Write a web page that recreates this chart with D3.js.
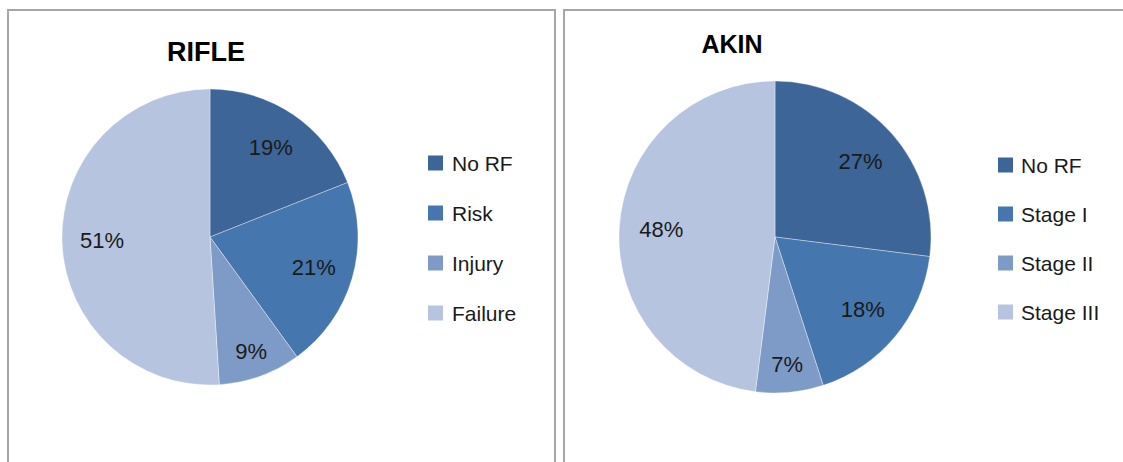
<!DOCTYPE html>
<html>
<head>
<meta charset="utf-8">
<script src="https://cdn.jsdelivr.net/npm/d3@7"></script>
<style>
  html, body { margin: 0; padding: 0; background: #fff; }
  svg { display: block; }
</style>
</head>
<body>
<svg id="chart" width="1123" height="462"></svg>
<script>
// Category names and percentage shares for each classification
const rifleCategories = ["No RF", "Risk", "Injury", "Failure"];
const rifleValues = [19, 21, 9, 51];

const akinCategories = ["No RF", "Stage I", "Stage II", "Stage III"];
const akinValues = [27, 18, 7, 48];

const sliceColors = ["#3d6597", "#4676ae", "#7e9bc8", "#b6c4df"];

const svg = d3.select("#chart");
const FONT = "Liberation Sans, Arial, sans-serif";

function drawPanel(opts) {
  const g = svg.append("g");

  // panel frame
  g.append("rect")
    .attr("x", opts.frame[0]).attr("y", opts.frame[1])
    .attr("width", opts.frame[2]).attr("height", opts.frame[3])
    .attr("fill", "#fff")
    .attr("stroke", "#a6a6a6")
    .attr("stroke-width", 2);

  // title
  g.append("text")
    .attr("x", opts.titleX).attr("y", opts.titleY)
    .attr("text-anchor", "middle")
    .attr("font-family", FONT)
    .attr("font-weight", "bold")
    .attr("font-size", opts.titleSize)
    .attr("fill", "#000")
    .text(opts.title);

  const color = d3.scaleOrdinal().domain(opts.categories).range(sliceColors);
  const pie = d3.pie().sort(null).value(d => d.value);
  const data = opts.categories.map((c, i) => ({ name: c, value: opts.values[i] }));
  const arcs = pie(data);
  const total = d3.sum(opts.values);

  const arc = d3.arc().innerRadius(0).outerRadius(opts.r);
  const pieG = g.append("g").attr("transform", `translate(${opts.cx},${opts.cy})`);

  pieG.selectAll("path")
    .data(arcs)
    .join("path")
    .attr("d", arc)
    .attr("fill", d => color(d.data.name))
    .attr("stroke", "rgba(255,255,255,0.45)")
    .attr("stroke-width", 0.8);

  // percentage labels inside slices; thin slices get pushed outward
  pieG.selectAll("text")
    .data(arcs)
    .join("text")
    .attr("transform", d => {
      const f = d.data.value < 10 ? 0.82 : 0.73;
      const la = d3.arc().innerRadius(opts.r * f).outerRadius(opts.r * f);
      const [x, y] = la.centroid(d);
      return `translate(${x},${y})`;
    })
    .attr("text-anchor", "middle")
    .attr("dominant-baseline", "central")
    .attr("font-family", FONT)
    .attr("font-size", 22)
    .attr("fill", "#1a1a1a")
    .text(d => Math.round(d.data.value / total * 100) + "%");

  // legend
  const lg = g.append("g").attr("transform", `translate(${opts.legendX},${opts.legendY})`);
  const rows = lg.selectAll("g")
    .data(opts.categories)
    .join("g")
    .attr("transform", (d, i) => `translate(0,${i * opts.legendGap})`);
  rows.append("rect")
    .attr("x", 0).attr("y", -7.5)
    .attr("width", 15).attr("height", 15)
    .attr("fill", d => color(d));
  rows.append("text")
    .attr("x", opts.legendTextDx).attr("y", 0)
    .attr("dominant-baseline", "central")
    .attr("font-family", FONT)
    .attr("font-size", 21)
    .attr("fill", "#1a1a1a")
    .text(d => d);
}

drawPanel({
  frame: [8, 10, 547, 470],
  title: "RIFLE", titleX: 206, titleY: 61, titleSize: 27,
  categories: rifleCategories, values: rifleValues,
  cx: 210, cy: 237, r: 148,
  legendX: 428, legendY: 163, legendGap: 50, legendTextDx: 24
});

drawPanel({
  frame: [564, 10, 570, 470],
  title: "AKIN", titleX: 732, titleY: 53, titleSize: 25,
  categories: akinCategories, values: akinValues,
  cx: 775, cy: 237, r: 156,
  legendX: 998, legendY: 165, legendGap: 49, legendTextDx: 23
});
</script>
</body>
</html>
